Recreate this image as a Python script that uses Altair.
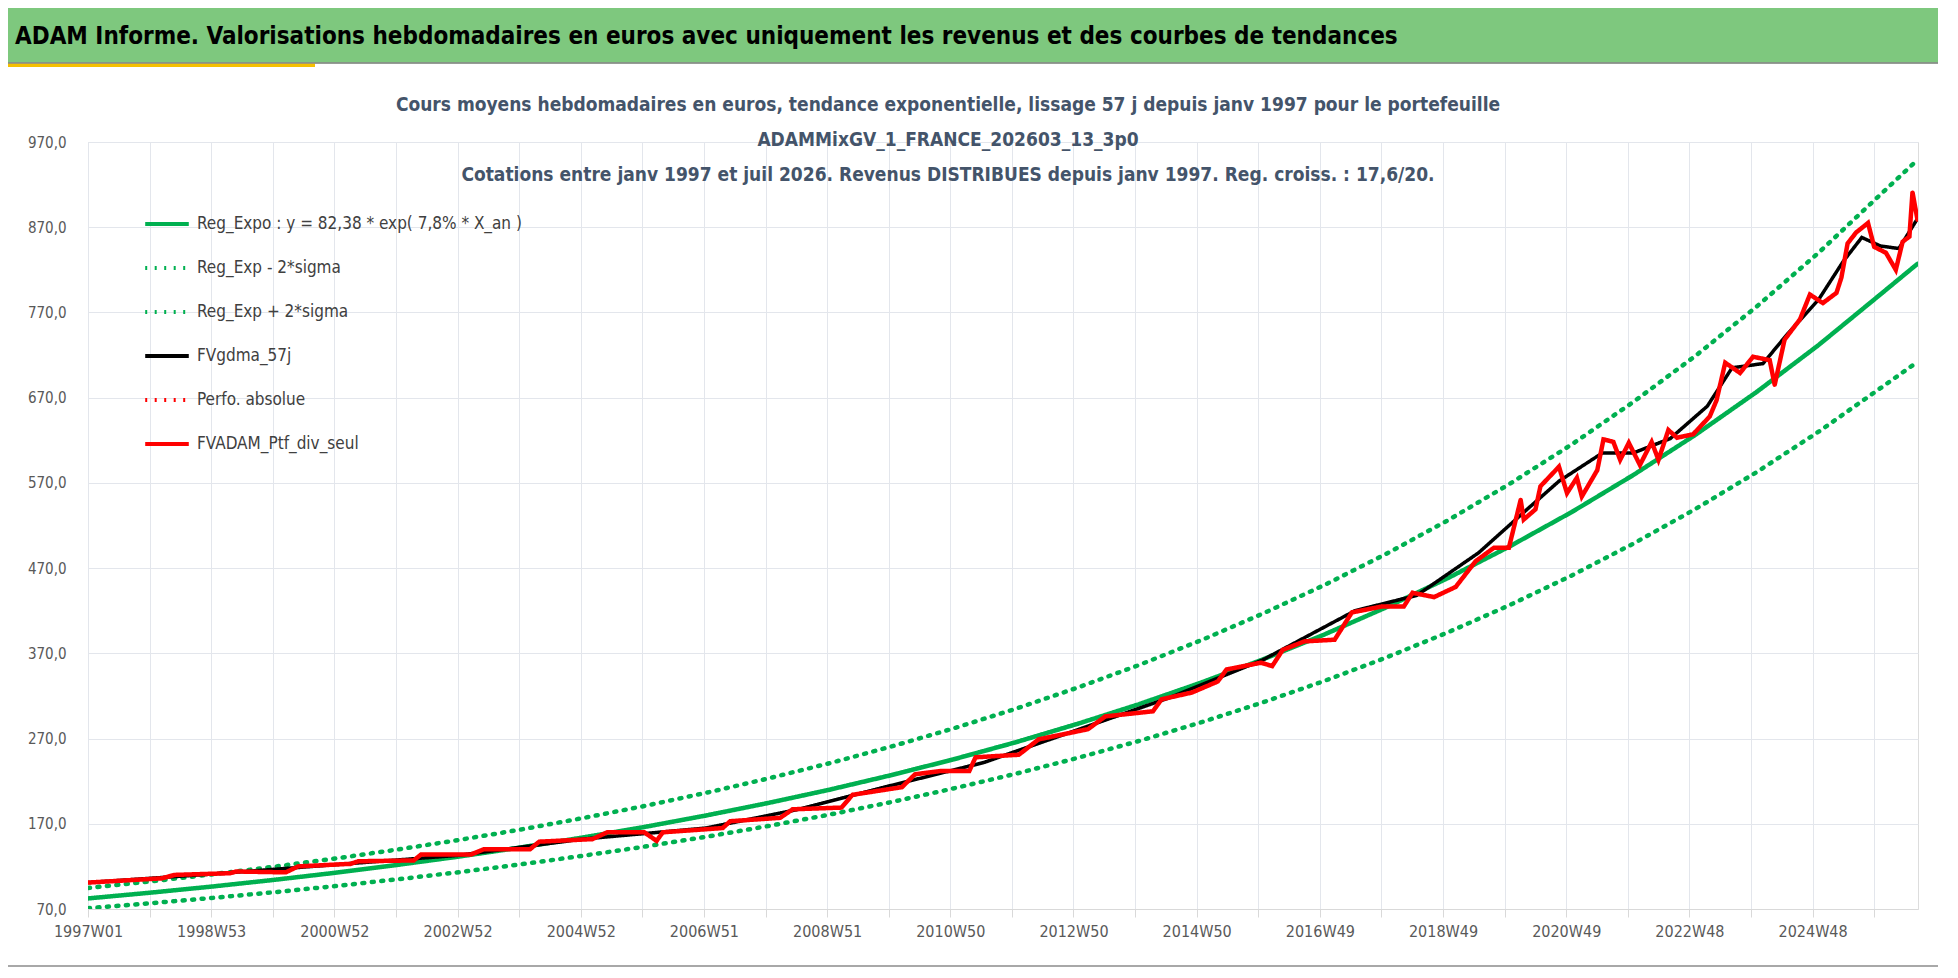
import pandas as pd
import altair as alt

WEEKS_PER_YEAR = 52.18
FONT = "Liberation Sans Narrow, DejaVu Sans Condensed, sans-serif"

# --- courbes de tendance (annees entieres depuis 1997, derniere valeur en juil 2026) ---
trend_years = list(range(1997, 2026)) + [2026, 2026.6]
trend_vals = [82.4, 89.1, 96.3, 104.1, 112.5, 121.7, 131.5, 142.2, 153.8, 166.2, 179.7, 194.3,
              210.0, 227.1, 245.5, 265.4, 287.0, 310.2, 335.4, 362.6, 392.0, 423.8, 458.2,
              495.4, 535.5, 579.1, 626.0, 676.8, 731.7, 791.1, 827.0]
upper_vals = [94.6, 102.3, 110.6, 119.5, 129.2, 139.7, 151.0, 163.2, 176.6, 190.8, 206.3, 223.1,
              241.1, 260.7, 281.8, 304.7, 329.5, 356.1, 385.0, 416.3, 450.0, 486.5, 526.0,
              568.7, 614.8, 664.8, 718.6, 777.0, 840.0, 908.2, 949.0]
lower_vals = [70.9, 76.7, 82.9, 89.6, 96.9, 104.8, 113.2, 122.4, 132.4, 143.1, 154.7, 167.3,
              180.8, 195.5, 211.4, 228.5, 247.1, 267.1, 288.8, 312.2, 337.5, 364.9, 394.5,
              426.5, 461.1, 498.6, 539.0, 582.7, 630.0, 681.1, 712.0]

# --- portefeuille ---
ptf_years = [1997.0, 1998.2, 1998.4, 1999.3, 1999.4, 2000.2, 2000.4, 2001.25, 2001.37, 2002.27,
             2002.39, 2003.2, 2003.4, 2004.15, 2004.3, 2005.16, 2005.4, 2006.0, 2006.2, 2006.3,
             2007.27, 2007.39, 2008.2, 2008.4, 2009.19, 2009.37, 2010.17, 2010.38, 2010.8,
             2011.26, 2011.36, 2012.06, 2012.38, 2013.18, 2013.46, 2014.23, 2014.37, 2014.86,
             2015.28, 2015.42, 2015.98, 2016.16, 2016.33, 2016.68, 2017.17, 2017.45, 2017.94,
             2018.29, 2018.43, 2018.78, 2019.13, 2019.45, 2019.75, 2019.99, 2020.18, 2020.23,
             2020.42, 2020.5, 2020.8, 2020.93, 2021.09, 2021.17, 2021.42, 2021.52, 2021.68,
             2021.79, 2021.93, 2022.11, 2022.3, 2022.41, 2022.57, 2022.71, 2022.97, 2023.24,
             2023.35, 2023.49, 2023.73, 2023.94, 2024.21, 2024.29, 2024.45, 2024.7, 2024.86,
             2025.07, 2025.29, 2025.37, 2025.47, 2025.61, 2025.8, 2025.9, 2026.09, 2026.25,
             2026.36, 2026.47, 2026.52, 2026.6]
ptf_vals = [101, 106, 110, 112, 114, 113, 120, 123, 126, 127, 134, 134, 140, 140, 149, 152, 160,
            160, 150, 160, 165, 173, 177, 187, 189, 204, 213, 228, 232, 232, 248, 251, 269, 281,
            296, 302, 316, 324, 337, 351, 359, 355, 374, 384, 386, 418, 425, 425, 441, 436, 448,
            478, 494, 494, 550, 527, 539, 566, 589, 558, 576, 554, 585, 621, 618, 597, 617, 591,
            618, 597, 632, 623, 627, 648, 667, 711, 699, 718, 714, 685, 738, 762, 791, 781, 793,
            811, 851, 864, 875, 847, 840, 820, 853, 859, 911, 879]

gdma_years = [1997, 1999, 2001, 2003, 2005, 2007, 2008.5, 2010, 2011.5, 2013, 2014.5, 2016,
              2017.5, 2018.5, 2019.5, 2020.3, 2020.8, 2021.5, 2022, 2022.6, 2023.2, 2023.6,
              2024.1, 2024.5, 2025, 2025.4, 2025.7, 2026, 2026.3, 2026.6]
gdma_vals = [101, 111, 122, 133, 152, 165, 187, 215, 242, 280, 318, 362, 420, 438, 488, 540,
             572, 605, 605, 622, 660, 705, 710, 745, 785, 830, 858, 848, 845, 880]

tick_labels = ["1997W01", "1998W53", "2000W52", "2002W52", "2004W52", "2006W51", "2008W51",
               "2010W50", "2012W50", "2014W50", "2016W49", "2018W49", "2020W49", "2022W48",
               "2024W48"]
y_ticks = [70, 170, 270, 370, 470, 570, 670, 770, 870, 970]

head_title = "ADAM Informe. Valorisations hebdomadaires en euros avec uniquement les revenus et des courbes de tendances"
sub_titles = [
    "Cours moyens hebdomadaires  en euros, tendance exponentielle, lissage 57 j depuis janv 1997 pour le portefeuille",
    "ADAMMixGV_1_FRANCE_202603_13_3p0",
    "Cotations  entre janv 1997 et juil 2026. Revenus DISTRIBUES depuis janv 1997. Reg. croiss. : 17,6/20.",
]

names = ["Reg_Expo : y = 82,38 * exp( 7,8% *  X_an )", "Reg_Exp - 2*sigma", "Reg_Exp + 2*sigma",
         "FVgdma_57j", "Perfo. absolue", "FVADAM_Ptf_div_seul"]
colors = ["#00B050", "#00B050", "#00B050", "#000000", "#FF0000", "#FF0000"]
dashes = [[1, 0], [2, 7.5], [2, 7.5], [1, 0], [2, 7.5], [1, 0]]


def frame(years, vals, name):
    return pd.DataFrame({"week": [(y - 1997) * WEEKS_PER_YEAR for y in years],
                         "val": vals, "serie": name})


df = pd.concat([
    frame(trend_years, trend_vals, names[0]),
    frame(trend_years, lower_vals, names[1]),
    frame(trend_years, upper_vals, names[2]),
    frame(gdma_years, gdma_vals, names[3]),
    frame(ptf_years, ptf_vals, names[5]),
])

W, H = 1830, 767
label_expr = "datum.value % 104 == 0 ? " + str(tick_labels) + "[datum.value / 104] : ''"

x = alt.X("week:Q", scale=alt.Scale(domain=[0, 1545], nice=False, zero=False), title=None,
          axis=alt.Axis(values=list(range(0, 1545, 52)), labelExpr=label_expr, grid=True,
                        gridColor="#E3E6EC", domainColor="#D9D9D9", tickColor="#D9D9D9",
                        tickSize=8, labelFont=FONT, labelFontSize=16, labelColor="#595959",
                        labelPadding=6, labelOverlap=False, labelFlush=False))
y = alt.Y("val:Q", scale=alt.Scale(domain=[70, 970], nice=False, zero=False), title=None,
          axis=alt.Axis(values=y_ticks, labelExpr="replace(format(datum.value, '.1f'), '.', ',')",
                        grid=True, gridColor="#E3E6EC", domain=False, ticks=False,
                        labelFont=FONT, labelFontSize=15, labelColor="#595959", labelPadding=22))
color = alt.Color("serie:N", scale=alt.Scale(domain=names, range=colors),
                  legend=alt.Legend(orient="none", legendX=55, legendY=58, title=None,
                                    symbolType="stroke", symbolSize=1900, symbolStrokeWidth=4,
                                    labelFont=FONT, labelFontSize=17, labelColor="#404040",
                                    rowPadding=12, labelOffset=6, labelLimit=600))
dash = alt.StrokeDash("serie:N", scale=alt.Scale(domain=names, range=dashes), legend=None)

base = alt.Chart(df).encode(x=x, y=y, color=color, strokeDash=dash)


def line(name, width):
    return base.transform_filter(alt.datum.serie == name).mark_line(
        strokeWidth=width, strokeCap="round", clip=True)


header = alt.Chart(pd.DataFrame({"t": [head_title]}))
band = header.mark_rect(color="#7EC87E", stroke="#6a9a6a").encode(
    x=alt.value(-88), x2=alt.value(1950 - 88), y=alt.value(-142), y2=alt.value(-79))
band_line = header.mark_rect(color="#F5C000").encode(
    x=alt.value(-88), x2=alt.value(315 - 88), y=alt.value(-79), y2=alt.value(-75))
band_side = header.mark_rect(color="#F5C000").encode(
    x=alt.value(-88), x2=alt.value(-81), y=alt.value(-79), y2=alt.value(-47))
border = header.mark_rect(fill=None, stroke="#8c8c8c", strokeWidth=1.5).encode(
    x=alt.value(-86), x2=alt.value(1948 - 88), y=alt.value(-79), y2=alt.value(966 - 142))
head_text = header.mark_text(align="left", baseline="middle", font=FONT, fontSize=24,
                             fontWeight="bold", color="#000000").encode(
    x=alt.value(15 - 88), y=alt.value(37 - 142), text="t:N")

sub_layers = [
    alt.Chart(pd.DataFrame({"t": [txt]})).mark_text(
        align="center", baseline="middle", font=FONT, fontSize=19, fontWeight="bold",
        color="#44546A").encode(x=alt.value(948 - 88), y=alt.value(yy - 142), text="t:N")
    for txt, yy in zip(sub_titles, [105, 140, 175])
]

chart = alt.layer(
    band, band_line, band_side, border, head_text, *sub_layers,
    line(names[1], 4.5), line(names[2], 4.5), line(names[0], 4.5),
    line(names[3], 3.5), line(names[5], 4.5),
).properties(
    width=W, height=H, autosize=alt.AutoSizeParams(type="none"),
    padding={"left": 80, "top": 134, "right": 20, "bottom": 60},
).configure_view(stroke=None).configure(background="white")

chart.save("out.html", embed_options={"renderer": "svg", "actions": False})
